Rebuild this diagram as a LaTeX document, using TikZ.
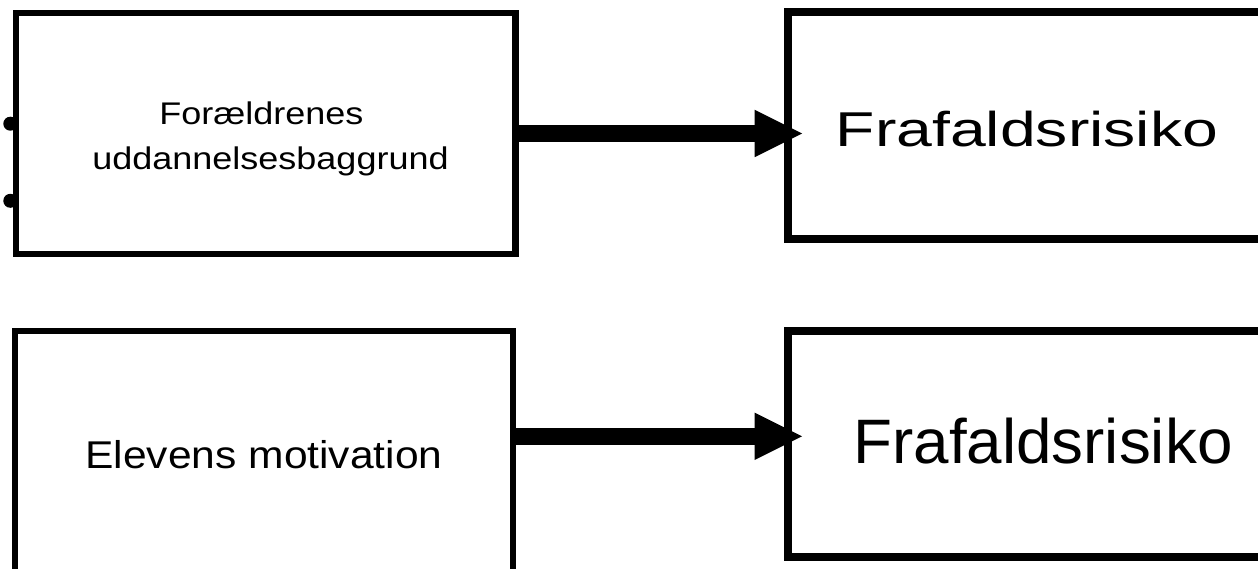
\documentclass[tikz,border=0pt]{standalone}
\usepackage{fontspec}
\setmainfont{Liberation Sans}
\usepackage{graphicx}
\usetikzlibrary{arrows.meta}
\begin{document}
\begin{tikzpicture}[x=1pt,y=-1pt,
  box/.style={draw=black, line width=#1, fill=none, inner sep=0pt, outer sep=0pt},
  box/.default=7pt,
  lbl/.style={inner sep=0pt, outer sep=0pt, anchor=base, text=black},
  conn/.style={draw=black, line width=16.7pt, -{Triangle[length=47.5pt,width=47.5pt,line width=0pt]}}]
\useasboundingbox (0,0) rectangle (1258,569);
\fill[black] (10.3,123.7) circle (7pt);
\fill[black] (10.3,200.8) circle (7pt);
\node[box=6.5pt, minimum width=499.5pt, minimum height=241pt] (b1) at (265.75,133.5) {};
\node[box=8pt, minimum width=520pt, minimum height=227pt] (b2) at (1047.5,125.5) {};
\node[box=6pt, minimum width=498.8pt, minimum height=249pt] (b3) at (263.9,455.5) {};
\node[box=8pt, minimum width=520pt, minimum height=226pt] (b4) at (1047.5,444) {};
\node[lbl, font=\fontsize{31.3}{45}\selectfont] (t1) at (270.5,125) {\scalebox{1.15}[1]{\begin{tabular}[t]{@{}c@{}}Forældrenes\rule{16pt}{0pt}\\uddannelsesbaggrund\end{tabular}}};
\node[lbl, font=\fontsize{48.9}{55}\selectfont] (t2) at (1027,147) {\scalebox{1.315}[1]{Frafaldsrisiko}};
\node[lbl, font=\fontsize{38.7}{45}\selectfont] (t3) at (264,468) {\scalebox{1.10}[1]{Elevens motivation}};
\node[lbl, font=\fontsize{62.8}{70}\selectfont] (t4) at (1043,463) {\scalebox{1.015}[1]{Frafaldsrisiko}};
\coordinate (y2) at (0,436.3);
\draw[conn] (b1.east) -- ([xshift=14.5pt]b1.east -| b2.west);
\draw[conn] (b3.east |- y2) -- ([xshift=14.5pt]b4.west |- y2);
\end{tikzpicture}
\end{document}
